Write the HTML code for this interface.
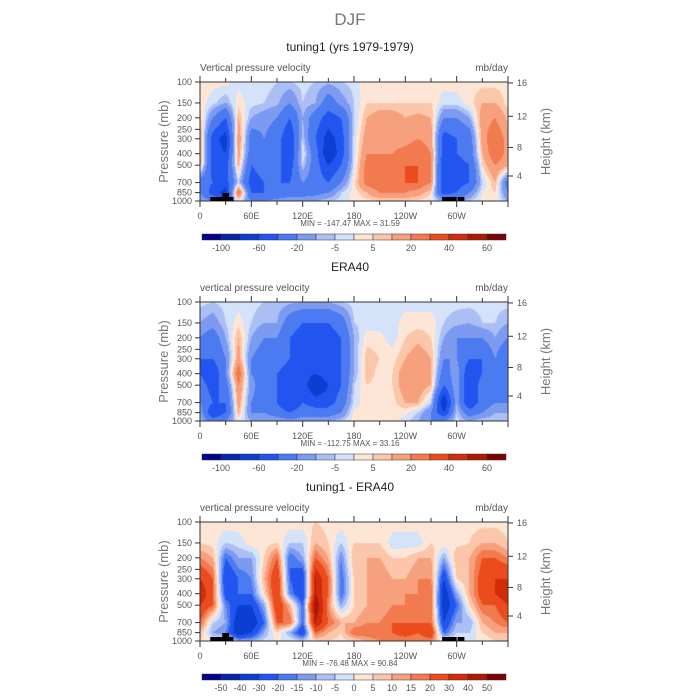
<!DOCTYPE html>
<html><head><meta charset="utf-8">
<style>
body{margin:0;background:#fff;width:700px;height:700px;overflow:hidden;font-family:"Liberation Sans",sans-serif;}
#root{position:relative;width:700px;height:700px;}
canvas{position:absolute;}
.t{position:absolute;white-space:nowrap;color:#555;}
</style></head><body>
<div id="root">
<svg id="svg" width="700" height="700" style="position:absolute;left:0;top:0"></svg>
</div>
<script>
// ---------- data ----------
const levels = [100,150,200,300,400,500,700,850,1000];
const lons = [0,15,30,45,60,75,90,105,120,135,150,165,180,195,210,225,240,255,270,285,300,315,330,345,360];
// rows: per longitude, values at levels (top->bottom)
const model = [
[3,3,8,15,15,12,-30,-20,-10],[2,-3,-20,-50,-50,-50,-40,-50,-20],[2,-10,-40,-70,-60,-50,-50,-70,-30],
[-2,3,10,18,15,10,-5,30,0],[-2,-3,-10,-30,-30,-40,-50,-40,-20],[-3,-5,-15,-20,-25,-30,-40,-40,-20],
[-5,-8,-20,-30,-30,-35,-40,-35,-15],[-5,-20,-40,-60,-60,-50,-40,-30,-10],[-3,-5,-10,-5,0,-5,-20,-30,-10],
[-5,-10,-30,-40,-30,-30,-30,-25,-10],[-8,-30,-50,-70,-80,-60,-40,-20,-5],[-5,-15,-40,-50,-50,-40,-20,-5,-3],
[-3,-5,-5,-3,-3,-2,3,2,2],[3,5,10,15,20,25,25,10,3],[2,5,15,20,20,25,30,20,5],[3,5,15,15,20,25,30,20,5],
[3,5,10,15,25,30,30,20,5],[3,5,12,20,30,30,30,15,3],[3,5,10,15,20,20,20,5,2],[2,-3,-20,-50,-50,-60,-60,-50,-10],
[3,-3,-20,-40,-40,-50,-50,-40,-10],[3,3,-10,-30,-30,-40,-40,-20,-5],[3,10,15,15,10,5,-5,0,2],[3,10,20,30,30,20,10,5,3],
[3,3,8,15,15,12,-30,-20,-10]];
const era = [
[-3,-10,-20,-40,-40,-30,-20,-10,-5],[-5,-15,-30,-40,-60,-50,-40,-60,-30],[-3,-5,-10,-20,-20,-30,-40,-40,-20],
[-3,3,10,15,30,20,15,10,0],[-3,-5,-10,-20,-20,-15,-20,-20,-10],[-5,-10,-20,-30,-30,-30,-30,-20,-10],
[-5,-10,-20,-30,-40,-40,-40,-30,-10],[-8,-30,-40,-40,-50,-60,-60,-40,-15],[-10,-40,-50,-50,-50,-50,-40,-30,-10],
[-10,-40,-50,-50,-60,-80,-50,-30,-10],[-10,-40,-50,-50,-50,-60,-50,-30,-10],[-5,-30,-40,-40,-40,-40,-30,-20,-5],
[-3,-5,-10,-10,-10,-5,-3,2,2],[-3,-3,3,8,8,5,3,2,2],[-3,-3,2,5,3,3,3,2,2],[-3,-3,-3,3,5,5,3,2,2],
[-3,3,5,10,15,15,10,2,-3],[-3,3,8,15,15,15,10,-5,-10],[-3,3,5,10,10,10,-5,-20,-20],[-3,-5,-10,-20,-30,-40,-80,-60,-20],
[-3,-8,-20,-20,-10,-10,-10,-5,-3],[-3,-10,-20,-40,-60,-60,-60,-30,-10],[-3,-5,-20,-40,-40,-30,-30,-20,-5],[-3,-5,-10,-20,-20,-20,-20,-10,-5],
[-3,-10,-20,-40,-40,-30,-20,-10,-5]];
const diff = [
[3,5,15,30,40,30,20,10,5],[3,3,10,20,20,20,-5,-10,0],[3,-5,-20,-30,-25,-15,-10,-15,5],[3,-3,-10,-20,-20,-30,-40,-40,-10],
[3,3,-10,-15,-20,-30,-40,-30,-10],[3,3,5,10,5,-10,-20,-10,-3],[3,5,20,30,30,30,20,5,0],[3,-5,-20,-20,-15,10,20,-10,0],
[3,-5,-10,-30,-30,-20,-20,-30,-5],[5,10,20,40,40,50,40,20,5],[3,5,10,20,20,15,20,10,5],[3,-5,-15,-20,-20,-10,10,5,3],
[3,5,10,5,5,5,10,20,5],[3,5,10,10,10,10,15,20,10],[5,5,10,15,10,10,15,20,15],[3,-3,5,10,10,15,20,20,15],
[3,-3,5,10,15,15,20,25,15],[3,-3,10,15,15,15,20,20,15],[5,5,10,15,20,20,20,30,15],[3,3,-10,-30,-40,-40,-30,-20,0],
[3,3,10,5,-10,-20,-10,-5,0],[3,5,10,10,10,5,-10,-5,0],[3,10,20,25,25,20,10,5,0],[3,10,20,30,30,20,15,10,5],
[3,5,15,30,40,30,20,10,5]];
const levA = [-100,-80,-60,-40,-20,-10,-5,0,5,10,20,30,40,50,60];
const levB = [-50,-40,-30,-20,-15,-10,-5,0,5,10,15,20,30,40,50];
const labA = ["-100","-60","-20","-5","5","20","40","60"];
const labB = ["-50","-40","-30","-20","-15","-10","-5","0","5","10","15","20","30","40","50"];
const pTicks = [100,150,200,250,300,400,500,700,850,1000];
const lonTickLabels = ["0","60E","120E","180","120W","60W"];
const hTicks = ["16","12","8","4"];
const titles = ["tuning1 (yrs 1979-1979)","ERA40","tuning1 - ERA40"];
const subs = ["Vertical pressure velocity","vertical pressure velocity","vertical pressure velocity"];
const minmax = ["MIN = -147.47   MAX =   31.59","MIN = -112.75   MAX =   33.16","MIN = -76.48   MAX =   90.84"];
const colors = ["#03008a","#0626aa","#0a3fd2","#2255f0","#4c7af0","#7c9af0","#abbff5","#d4e2fa","#fde6d6","#fbc6aa","#f7a07e","#f17a4f","#ec4b1e","#d22c0a","#ab1a05","#7a0303"];

// ---------- layout ----------
const X0=200,X1=508,PH=119,PTOPS=[82,302,522];
const svg=document.getElementById('svg');const NS='http://www.w3.org/2000/svg';
const root=document.getElementById('root');
function xOf(lon){return X0+(X1-X0)*lon/360;}
function yFrac(p){return Math.log(p/100)/Math.log(10);}
function mk(tag,attrs,name,parent){const e=document.createElementNS(NS,tag);for(const k in attrs)e.setAttribute(k,attrs[k]);


(parent||svg).appendChild(e);return e;}
function txt(x,y,s,size,anchor,name,color,rot){const e=mk('text',{x:x,y:y,'font-size':size,'text-anchor':anchor||'middle',fill:color||'#555','font-family':'Liberation Sans, sans-serif'},name);
if(rot)e.setAttribute('transform','rotate(-90 '+x+' '+y+')');e.textContent=s;return e;}
function interp(data,lon,yf){
  // lon index
  let li=lon/15;let i=Math.min(Math.floor(li),lons.length-2);let fx=li-i;
  let lf=levels.map(yFrac);let j=0;while(j<levels.length-2&&lf[j+1]<yf)j++;
  let fy=(yf-lf[j])/(lf[j+1]-lf[j]);fy=Math.max(0,Math.min(1,fy));
  const a=data[i][j],b=data[i+1][j],c=data[i][j+1],d=data[i+1][j+1];
  return (a*(1-fx)+b*fx)*(1-fy)+(c*(1-fx)+d*fx)*fy;
}
function colorFor(v,lev){let k=0;while(k<lev.length&&v>=lev[k])k++;return colors[k];}

txt(350,25,"DJF",17,'middle','main-title','#777');

const datasets=[model,era,diff];
for(let p=0;p<3;p++){
  const top=PTOPS[p],lev=p==2?levB:levA,data=datasets[p];
  const cv=document.createElement('canvas');cv.width=X1-X0;cv.height=PH;cv.style.left=X0+'px';cv.style.top=top+'px';
  
  
  root.insertBefore(cv,svg);
  const ctx=cv.getContext('2d');
  for(let px=0;px<cv.width;px++){for(let py=0;py<PH;py++){
    const lon=(px+0.5)/cv.width*360,yf=(py+0.5)/PH;
    ctx.fillStyle=colorFor(interp(data,lon,yf),lev);ctx.fillRect(px,py,1,1);}}
  // frame
  mk('rect',{x:X0,y:top,width:X1-X0,height:PH,fill:'none',stroke:'#333','stroke-width':1},'plot-frame-'+(p+1));
  // terrain
  if(p!=1){
    [[12,39,-1],[26,33,1],[283,309,-1]].forEach((b,bi)=>{});
    mk('rect',{x:xOf(12),y:top+PH-4,width:xOf(39)-xOf(12),height:4,fill:'#000'},'terrain-africa-'+(p+1));
    mk('rect',{x:xOf(26),y:top+PH-8,width:xOf(34)-xOf(26),height:8,fill:'#000'},'terrain-highland-'+(p+1));
    mk('rect',{x:xOf(283),y:top+PH-4,width:xOf(300)-xOf(283),height:4,fill:'#000'},'terrain-andes-a-'+(p+1));
    mk('rect',{x:xOf(301),y:top+PH-4,width:xOf(309)-xOf(301),height:4,fill:'#000'},'terrain-andes-b-'+(p+1));
  }
  // x ticks
  for(let l=0;l<=360;l+=30){const x=xOf(l),maj=l%60==0;
    mk('line',{x1:x,x2:x,y1:top+PH,y2:top+PH+(maj?6:4),stroke:'#333'},'x-tick');
    mk('line',{x1:x,x2:x,y1:top,y2:top-(maj?6:4),stroke:'#333'},'x-tick-top');
    if(maj&&l<360)txt(x,top+PH+18,lonTickLabels[l/60],9,'middle','x-tick-label');}
  // y ticks
  pTicks.forEach(pv=>{const y=top+yFrac(pv)*PH;
    mk('line',{x1:X0,x2:X0-5,y1:y,y2:y,stroke:'#333'},'y-tick');
    txt(X0-8,y+3,String(pv),9,'end','y-tick-label');});
  const hf=[0.008,0.288,0.55,0.79];
  hTicks.forEach((h,k)=>{const y=top+hf[k]*PH;
    mk('line',{x1:X1,x2:X1+5,y1:y,y2:y,stroke:'#333'},'height-tick');
    txt(X1+9,y+3,h,9,'start','height-tick-label');});
  txt(168,top+PH/2,"Pressure (mb)",13,'middle','y-axis-title','#777',true);
  txt(550,top+PH/2,"Height (km)",13,'middle','height-axis-title','#777',true);
  txt(350,top-31,titles[p],12,'middle','panel-title','#222');
  txt(X0,top-11,subs[p],10,'start','variable-label','#555');
  txt(X1,top-11,"mb/day",10,'end','units-label','#555');
  txt(350,top+PH+25,minmax[p],8,'middle','min-max-label','#555');
  // colorbar
  const cy=top+152,bw=19;
  for(let k=0;k<16;k++){mk('rect',{x:202+k*bw,y:cy,width:bw,height:6,fill:colors[k],stroke:'#333','stroke-width':0.5},'colorbar-box');}
  const labs=p==2?labB:labA;
  labs.forEach((s,k)=>{const bi=p==2?k+1:2*k+1;txt(202+bi*bw,cy+17,s,9,'middle','colorbar-label');});
}
</script>
</body></html>
